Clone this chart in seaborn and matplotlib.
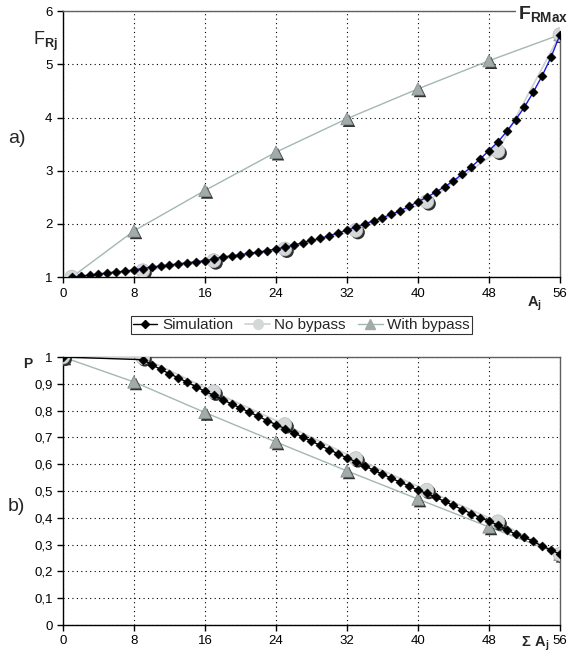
import seaborn as sns
import matplotlib.pyplot as plt
import matplotlib.patheffects as pe
from matplotlib.lines import Line2D
from matplotlib.ticker import FuncFormatter

# ---- data ----
# a) F_Rj versus A_j
sim_a_x = list(range(1, 57))
sim_a_f = [1.00, 1.02, 1.04, 1.06, 1.08, 1.10, 1.11, 1.14, 1.16, 1.19,
           1.21, 1.23, 1.25, 1.27, 1.29, 1.31, 1.34, 1.38, 1.40, 1.42,
           1.45, 1.47, 1.50, 1.53, 1.56, 1.60, 1.65, 1.69, 1.73, 1.78,
           1.83, 1.88, 1.94, 2.00, 2.06, 2.12, 2.18, 2.25, 2.33, 2.42,
           2.50, 2.60, 2.70, 2.81, 2.94, 3.07, 3.22, 3.38, 3.54, 3.74,
           3.96, 4.20, 4.48, 4.79, 5.14, 5.56]
nob_a_x = [1, 9, 17, 25, 33, 41, 49, 56]
nob_a_f = [1.00, 1.12, 1.31, 1.53, 1.88, 2.42, 3.37, 5.56]
byp_a_x = [1, 8, 16, 24, 32, 40, 48, 56]
byp_a_f = [1.00, 1.87, 2.63, 3.35, 3.98, 4.54, 5.07, 5.56]

# b) P versus sum A_j
sim_b_x = [0] + list(range(9, 57))
sim_b_p = [1.000, 0.990, 0.972, 0.954, 0.938, 0.922, 0.906, 0.889, 0.872, 0.857,
           0.841, 0.825, 0.810, 0.794, 0.779, 0.763, 0.748, 0.733, 0.717, 0.702,
           0.686, 0.670, 0.654, 0.639, 0.624, 0.609, 0.594, 0.578, 0.563, 0.548,
           0.533, 0.519, 0.503, 0.491, 0.477, 0.461, 0.446, 0.431, 0.416, 0.401,
           0.387, 0.373, 0.356, 0.339, 0.327, 0.312, 0.294, 0.280, 0.264]
nob_b_x = [0, 9, 17, 25, 33, 41, 49, 56]
nob_b_p = [1.000, 0.998, 0.870, 0.748, 0.621, 0.503, 0.385, 0.264]
byp_b_x = [0, 8, 16, 24, 32, 40, 48, 56]
byp_b_p = [1.000, 0.907, 0.793, 0.683, 0.575, 0.470, 0.366, 0.264]

x_ticks = list(range(0, 57, 8))

sns.set_theme(style="white")
plt.rcParams['font.family'] = ['Liberation Sans', 'DejaVu Sans']
plt.rcParams['mathtext.fontset'] = 'custom'
plt.rcParams['mathtext.rm'] = 'Liberation Sans'
plt.rcParams['mathtext.bf'] = 'Liberation Sans:bold'

c_byp_line = '#a3b8b3'
c_byp_mark = '#a2abaa'
c_nob_line = '#cdd1d1'
c_nob_mark = '#d4d8d8'
shadow = [pe.SimplePatchShadow(offset=(1.5, -1.5), shadow_rgbFace='#303030', alpha=1), pe.Normal()]

fig = plt.figure(figsize=(5.72, 6.63), dpi=100)
ax1 = fig.add_axes([0.110, 0.582, 0.869, 0.401])
ax2 = fig.add_axes([0.110, 0.0573, 0.869, 0.4042])


def style(ax):
    ax.set_xlim(0, 56)
    ax.set_xticks(x_ticks)
    ax.grid(True, color='black', linestyle=(0, (1, 3)), linewidth=0.8)
    for s in ['left', 'bottom']:
        ax.spines[s].set_color('black')
        ax.spines[s].set_linewidth(1.0)
    for s in ['top', 'right']:
        ax.spines[s].set_color('#606060')
        ax.spines[s].set_linewidth(1.0)
    ax.tick_params(direction='out', length=4, width=1, color='black',
                   labelsize=9.5, labelcolor='black', left=True, bottom=True)
    ax.set_xlabel('')
    ax.set_ylabel('')


def draw(ax, sx, sy, nx, ny, bx, by, sim_color):
    sns.lineplot(x=bx, y=by, ax=ax, color=c_byp_line, linewidth=1.0, zorder=3)
    sns.lineplot(x=nx, y=ny, ax=ax, color=c_nob_line, linewidth=1.2, zorder=3)
    sns.scatterplot(x=bx, y=by, ax=ax, marker='^', s=80, color=c_byp_mark,
                    edgecolor='#7d8886', linewidth=0.5, zorder=4, path_effects=shadow)
    sns.scatterplot(x=nx, y=ny, ax=ax, marker='o', s=100, color=c_nob_mark,
                    edgecolor='#b8bcbc', linewidth=0.5, zorder=4, path_effects=shadow)
    sns.lineplot(x=sx, y=sy, ax=ax, color=sim_color, linewidth=1.0, zorder=5)
    sns.scatterplot(x=sx, y=sy, ax=ax, marker='D', s=22, color='black',
                    edgecolor='black', linewidth=0.3, zorder=6)


# a)
draw(ax1, sim_a_x, sim_a_f, nob_a_x, nob_a_f, byp_a_x, byp_a_f, '#1a1ae0')
style(ax1)
ax1.set_ylim(1, 6)
ax1.set_yticks([1, 2, 3, 4, 5, 6])
ax1.spines['top'].set_bounds(0, 51.3)
ax1.spines['right'].set_bounds(1, 5.58)

# b)
draw(ax2, sim_b_x, sim_b_p, nob_b_x, nob_b_p, byp_b_x, byp_b_p, 'black')
style(ax2)
ax2.set_ylim(0, 1)
ax2.set_yticks([i / 10 for i in range(11)])
ax2.yaxis.set_major_formatter(FuncFormatter(
    lambda v, p: '0' if v == 0 else ('1' if v == 1 else f'{v:.1f}'.replace('.', ','))))

# texts
W, H = 572, 663
fig.text(518 / W, 1 - 20 / H, r'$\mathbf{F}_{\mathbf{RMax}}$', fontsize=14,
         ha='left', va='baseline',
         bbox=dict(facecolor='white', edgecolor='none', pad=1.5))
fig.text(33 / W, 1 - 45 / H, r'$\mathregular{F}_{\mathbf{Rj}}$', fontsize=13,
         ha='left', va='baseline')
fig.text(23 / W, 1 - 368 / H, 'P', fontsize=10, fontweight='bold',
         ha='left', va='baseline')
fig.text(8 / W, 1 - 143 / H, 'a)', fontsize=14, ha='left', va='baseline')
fig.text(8 / W, 1 - 511 / H, 'b)', fontsize=14, ha='left', va='baseline')
fig.text(527 / W, 1 - 306 / H, r'$\mathbf{A}_{\mathbf{j}}$', fontsize=10.5,
         ha='left', va='baseline')
fig.text(521 / W, 1 - 646 / H, r'$\mathbf{\Sigma\ A}_{\mathbf{j}}$', fontsize=10.5,
         ha='left', va='baseline')

handles = [
    Line2D([], [], color='black', marker='D', markersize=4, linewidth=1.0),
    Line2D([], [], color=c_nob_line, marker='o', markersize=7,
           markerfacecolor=c_nob_mark, markeredgecolor=c_nob_mark, linewidth=1.2),
    Line2D([], [], color=c_byp_line, marker='^', markersize=7,
           markerfacecolor=c_byp_mark, markeredgecolor=c_byp_mark, linewidth=1.0),
]
leg = fig.legend(handles, ['Simulation', 'No bypass', 'With bypass'],
                 loc='center', bbox_to_anchor=(0.527, 0.510), ncol=3,
                 fontsize=11, frameon=True, fancybox=False, handlelength=1.6,
                 handletextpad=0.3, columnspacing=0.8, borderpad=0.15,
                 borderaxespad=0)
leg.get_frame().set_edgecolor('black')
leg.get_frame().set_linewidth(0.8)

fig.savefig('out.png', dpi=100)
